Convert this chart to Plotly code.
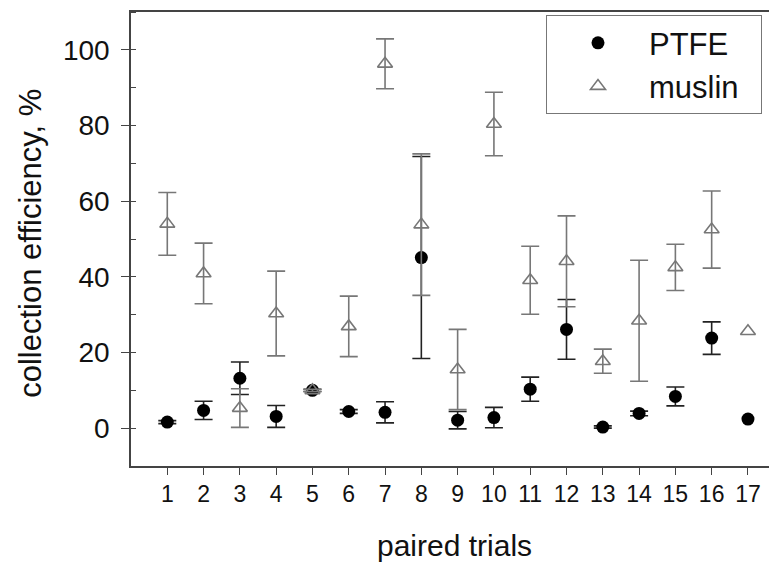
import plotly.graph_objects as go

trials = list(range(1, 18))
tick_labels = [str(t) for t in trials]
ptfe = [1.6, 4.7, 13.2, 3.1, 10.0, 4.4, 4.2, 45.1, 2.1, 2.8, 10.3, 26.1, 0.3, 3.9, 8.4, 23.8, 2.4]
ptfe_err = [0.4, 2.4, 4.3, 2.9, 0.3, 0.5, 2.8, 26.7, 2.3, 2.7, 3.2, 7.9, 0.3, 0.6, 2.5, 4.3, None]
muslin = [54.0, 40.9, 5.3, 30.3, 10.0, 26.9, 96.3, 53.8, 15.5, 80.4, 39.1, 44.1, 17.7, 28.4, 42.5, 52.5, 25.6]
muslin_err = [8.3, 8.0, 5.1, 11.2, 0.3, 8.0, 6.6, 18.7, 10.6, 8.4, 9.0, 12.0, 3.2, 16.0, 6.1, 10.2, None]

FONT = "Liberation Sans, Arial, sans-serif"
TXT = "#111111"
AX = "#444444"


def add_series(fig, name, ys, errs, marker, err_color):
    with_err = [i for i, e in enumerate(errs) if e is not None]
    no_err = [i for i, e in enumerate(errs) if e is None]
    fig.add_trace(go.Scatter(
        x=[trials[i] for i in with_err], y=[ys[i] for i in with_err],
        mode="markers", name=name, legendgroup=name, marker=marker,
        error_y=dict(type="data", array=[errs[i] for i in with_err], visible=True,
                     color=err_color, thickness=1.6, width=9),
    ))
    if no_err:
        fig.add_trace(go.Scatter(
            x=[trials[i] for i in no_err], y=[ys[i] for i in no_err],
            mode="markers", name=name, legendgroup=name, showlegend=False,
            marker=marker,
        ))


fig = go.Figure()
add_series(fig, "PTFE", ptfe, ptfe_err,
           dict(symbol="circle", size=13, color="black"), "#222222")
add_series(fig, "muslin&nbsp;&nbsp;", muslin, muslin_err,
           dict(symbol="triangle-up-open", size=13, color="#777777",
                line=dict(width=1.6, color="#777777")), "#777777")

# page body has an 8px margin: figure spans screen x 8..777, y 8..564
fig.update_layout(
    width=769, height=556,
    margin=dict(l=123, r=0, t=4, b=98),
    paper_bgcolor="white", plot_bgcolor="white",
    font=dict(family=FONT, color=TXT),
    showlegend=True,
    legend=dict(
        x=0.6424, y=0.993, xanchor="left", yanchor="top",
        bgcolor="white", bordercolor="#777777", borderwidth=1,
        font=dict(size=31, family=FONT, color=TXT),
        itemwidth=92, tracegroupgap=0,
    ),
    xaxis=dict(
        range=[0, 17.8], tickmode="array", tickvals=trials, ticktext=tick_labels,
        showline=True, linecolor=AX, linewidth=1.5, mirror=True,
        ticks="outside", ticklen=7, tickcolor=AX,
        showgrid=False, zeroline=False, automargin=False,
        tickfont=dict(size=23, family=FONT, color=TXT),
    ),
    yaxis=dict(
        range=[-10, 110], tick0=0, dtick=20,
        showline=True, linecolor=AX, linewidth=1.5,
        ticks="outside", ticklen=8, tickcolor=AX, ticklabelstandoff=6,
        minor=dict(dtick=10, tick0=0, ticks="inside", ticklen=5, tickcolor=AX, showgrid=False),
        showgrid=False, zeroline=False, automargin=False,
        tickfont=dict(size=28, family=FONT, color=TXT),
    ),
    annotations=[
        dict(text="collection efficiency, %", xref="paper", yref="paper",
             x=-0.156, y=0.49, xanchor="center", yanchor="middle",
             textangle=-90, showarrow=False,
             font=dict(size=31, family=FONT, color=TXT)),
        dict(text="paired trials", xref="paper", yref="paper",
             x=0.5, y=-0.176, xanchor="center", yanchor="middle",
             showarrow=False,
             font=dict(size=30, family=FONT, color=TXT)),
    ],
)

fig.write_html("out.html")
